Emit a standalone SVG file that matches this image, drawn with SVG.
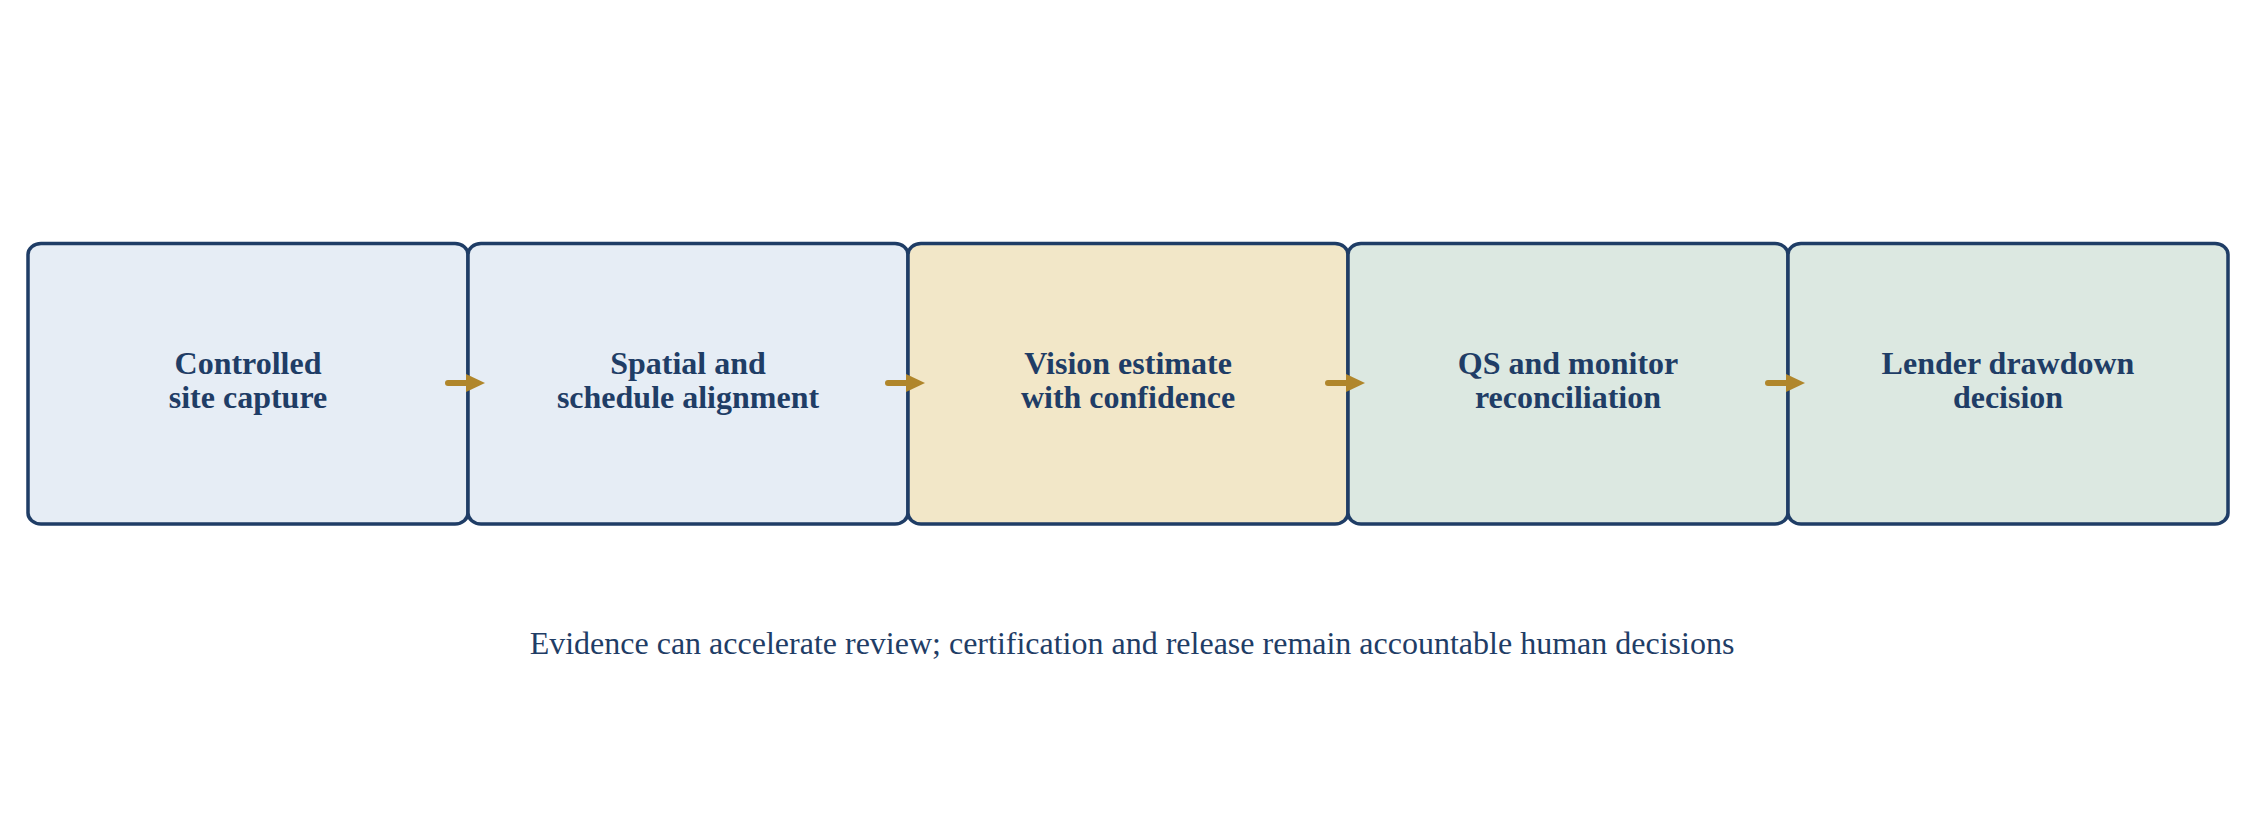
<svg xmlns="http://www.w3.org/2000/svg" width="2266" height="814" viewBox="0 0 2266 814">
<style>
.box{stroke:#1F3D66;stroke-width:3.5}
.b1{fill:#E6EDF5}
.b2{fill:#F2E7C8}
.b3{fill:#DCE8E1}
.lbl{font-family:"Liberation Serif","Times New Roman",serif;font-weight:bold;font-size:32px;fill:#1F3D66;text-anchor:middle}
.cap{font-family:"Liberation Serif","Times New Roman",serif;font-size:32px;fill:#1F3D66;text-anchor:middle}
.conn{stroke:#B0862B;stroke-width:6;stroke-linecap:round;fill:none}
</style>
<defs>
<marker id="ah" markerUnits="userSpaceOnUse" markerWidth="20" markerHeight="18" refX="0" refY="9" orient="auto">
<path d="M0,0 L19,9 L0,18 Z" fill="#B0862B"/>
</marker>
</defs>
<rect width="2266" height="814" fill="#FFFFFF"/>
<g id="node1"><rect class="box b1" x="28" y="243.5" width="440" height="280.5" rx="13" ry="11"/><text class="lbl" x="248" y="374">Controlled</text><text class="lbl" x="248" y="408">site capture</text></g>
<g id="node2"><rect class="box b1" x="468" y="243.5" width="440" height="280.5" rx="13" ry="11"/><text class="lbl" x="688" y="374">Spatial and</text><text class="lbl" x="688" y="408">schedule alignment</text></g>
<g id="node3"><rect class="box b2" x="908" y="243.5" width="440" height="280.5" rx="13" ry="11"/><text class="lbl" x="1128" y="374">Vision estimate</text><text class="lbl" x="1128" y="408">with confidence</text></g>
<g id="node4"><rect class="box b3" x="1348" y="243.5" width="440" height="280.5" rx="13" ry="11"/><text class="lbl" x="1568" y="374">QS and monitor</text><text class="lbl" x="1568" y="408">reconciliation</text></g>
<g id="node5"><rect class="box b3" x="1788" y="243.5" width="440" height="280.5" rx="13" ry="11"/><text class="lbl" x="2008" y="374">Lender drawdown</text><text class="lbl" x="2008" y="408">decision</text></g>
<g id="connectors">
<line class="conn" x1="448" y1="383" x2="466" y2="383" marker-end="url(#ah)"/>
<line class="conn" x1="888" y1="383" x2="906" y2="383" marker-end="url(#ah)"/>
<line class="conn" x1="1328" y1="383" x2="1346" y2="383" marker-end="url(#ah)"/>
<line class="conn" x1="1768" y1="383" x2="1786" y2="383" marker-end="url(#ah)"/>
</g>
<text class="cap" x="1132" y="654">Evidence can accelerate review; certification and release remain accountable human decisions</text>
</svg>
